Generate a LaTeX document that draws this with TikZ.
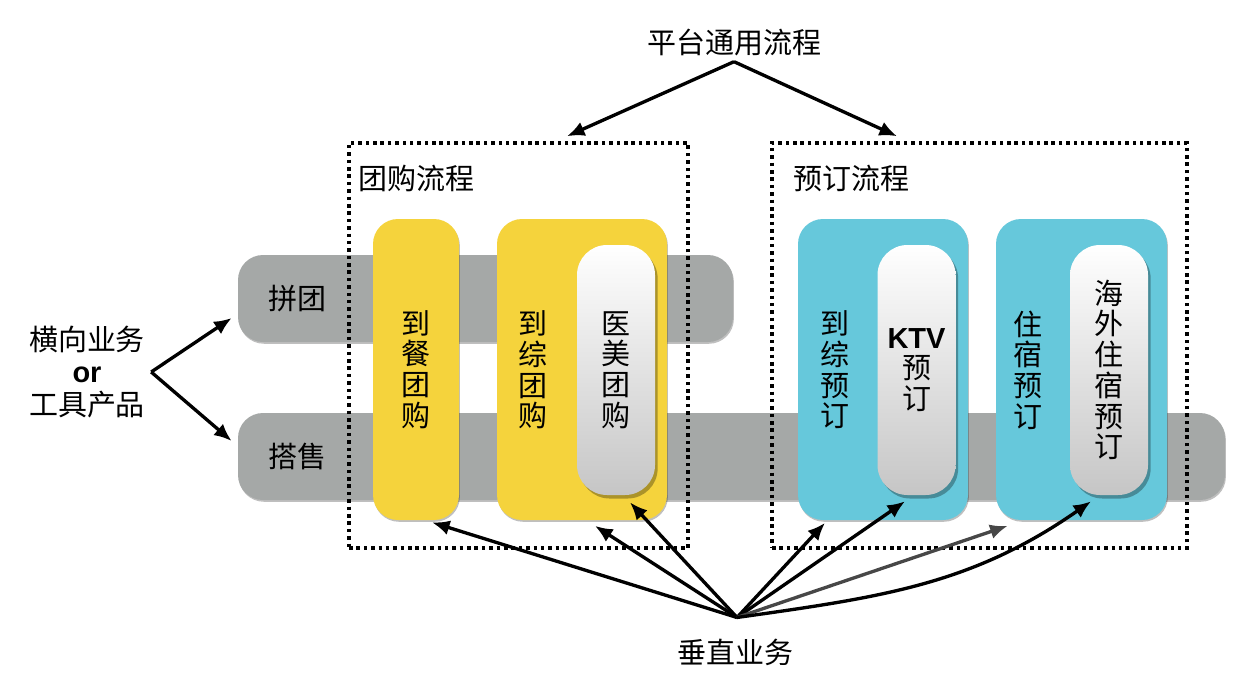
\documentclass[tikz,border=0pt]{standalone}
\usepackage{fontspec}
\setmainfont{Liberation Sans}
\newfontfamily\cjk{Noto Sans CJK SC}
\usepackage{xcolor}
\usepackage{tikz}
\definecolor{flowYellow}{HTML}{F5D33C}
\definecolor{flowBlue}{HTML}{66C8DB}
\definecolor{flowGray}{HTML}{A5A8A7}
\definecolor{flowDark}{HTML}{474747}
\usetikzlibrary{arrows.meta,positioning,shadows,calc}

\begin{document}
\begin{tikzpicture}[
  font=\cjk\fontsize{16.5}{17.5}\selectfont,
  >={Latex[length=10pt,width=8.5pt]},
  softshadow/.style={drop shadow={shadow xshift=0.5pt, shadow yshift=-1pt, opacity=0.25, fill=black}},
  bar/.style={fill=flowGray, rounded corners=0.5cm, minimum height=1.74cm, inner sep=0, softshadow},
  barlabel/.style={inner sep=0, anchor=west},
  flowbox/.style={draw, line width=2pt, dash pattern=on 2pt off 2.2pt, minimum height=8.1cm, inner sep=0},
  grouplabel/.style={inner sep=0, anchor=west},
  ybox/.style={fill=flowYellow, rounded corners=0.5cm, minimum height=6.02cm, align=center, softshadow},
  bbox/.style={fill=flowBlue, rounded corners=0.5cm, minimum height=6.02cm, align=center, softshadow},
  wbox/.style={top color=white, bottom color=gray!45, rounded corners=0.6cm, minimum width=1.56cm,
    minimum height=5cm, align=center,
    drop shadow={shadow xshift=1.5pt, shadow yshift=-2pt, opacity=0.3, fill=black}},
  vtext/.style={align=center},
  arrow/.style={->, line width=1.9pt}
]
\useasboundingbox (0,0) rectangle (24.86,-13.48);

% Horizontal bars
\node[bar, minimum width=9.9cm] (pin) at (9.71,-5.97) {};
\node[bar, minimum width=19.74cm] (dashou) at (14.63,-9.13) {};
\node[barlabel, right=0.6cm of pin.west] (pinlab) {拼团};
\node[barlabel, right=0.6cm of dashou.west] (dashoulab) {搭售};

% Process groups
\node[flowbox, minimum width=6.78cm] (tuan) at (10.37,-6.91) {};
\node[flowbox, minimum width=8.3cm] (yuding) at (19.59,-6.91) {};
\node[grouplabel] (tuanlab) at ($(tuan.north west)+(0.22,-0.74)$) {团购流程};
\node[grouplabel] (yudinglab) at ($(yuding.north west)+(0.46,-0.74)$) {预订流程};

% Vertical businesses
\node[ybox, minimum width=1.72cm] (daocan) at (8.32,-7.39) {到\\餐\\团\\购};
\node[ybox, minimum width=3.4cm] (daozong) at (11.64,-7.39) {};
\node[vtext] (daozonglab) at (10.66,-7.4) {到\\综\\团\\购};
\node[wbox] (yimei) at (12.32,-7.4) {医\\美\\团\\购};

\node[bbox, minimum width=3.4cm] (dzyd) at (17.66,-7.39) {};
\node[vtext] (dzydlab) at (16.7,-7.4) {到\\综\\预\\订};
\node[wbox] (ktv) at (18.33,-7.4) {{\rmfamily\bfseries KTV}\\预\\订};
\node[bbox, minimum width=3.42cm] (zhusu) at (21.63,-7.39) {};
\node[vtext] (zhusulab) at (20.56,-7.4) {住\\宿\\预\\订};
\node[wbox] (haiwai) at (22.18,-7.4) {海\\外\\住\\宿\\预\\订};

% Captions
\node (pingtai) at (14.68,-0.84) {平台通用流程};
\node[align=center, font=\cjk\fontsize{16.5}{18.5}\selectfont] (side) at (1.74,-7.44)
  {横向业务\\{\rmfamily\bfseries or}\\工具产品};
\node (chuizhi) at (14.7,-13.04) {垂直业务};
\coordinate (vb) at ([xshift=0.04cm,yshift=0.3cm]chuizhi.north);

% Relations
\draw[arrow] (pingtai.south) -- ([xshift=0.97cm,yshift=0.1cm]tuan.north);
\draw[arrow] (pingtai.south) -- ([xshift=-1.65cm,yshift=0.1cm]yuding.north);
\draw[arrow] (side.east) -- ([xshift=-0.12cm,yshift=-0.39cm]pin.west);
\draw[arrow] (side.east) -- ([xshift=-0.12cm,yshift=0.31cm]dashou.west);
\draw[arrow] (vb) -- ([xshift=0.32cm,yshift=-0.04cm]daocan.south);
\draw[arrow] (vb) -- ([xshift=0.26cm,yshift=-0.11cm]daozong.south);
\draw[arrow] (vb) -- ([xshift=0.28cm,yshift=-0.14cm]yimei.south);
\draw[arrow] (vb) -- ([xshift=-1.16cm,yshift=-0.05cm]dzyd.south);
\draw[arrow] (vb) -- ([xshift=-0.23cm,yshift=-0.12cm]ktv.south);
\draw[arrow, flowDark] (vb) -- ([xshift=0.24cm,yshift=-0.11cm]zhusu.south west);
\draw[arrow] (vb) to[out=8, in=215] ([xshift=-0.36cm,yshift=-0.12cm]haiwai.south);

\end{tikzpicture}
\end{document}
